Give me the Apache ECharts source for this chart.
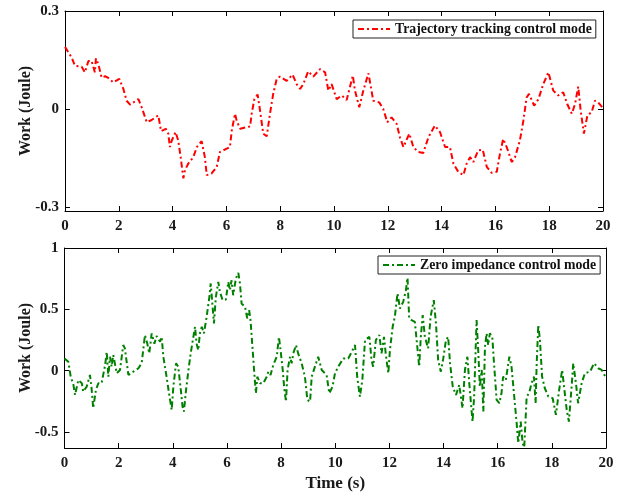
<!DOCTYPE html>
<html>
<head>
<meta charset="utf-8">
<script src="https://cdn.jsdelivr.net/npm/echarts@6/dist/echarts.min.js"></script>
<style>html,body{margin:0;padding:0;background:#fff}#c{width:630px;height:498px}</style>
</head>
<body>
<div id="c"></div>
<script>
// ---------- data ----------
const topTime = [0,0.06,0.25,0.37,0.62,0.74,0.87,0.99,1.11,1.15,1.24,1.36,1.49,1.61,1.80,2.02,2.17,2.29,2.42,2.73,2.85,3.04,3.22,3.47,3.57,3.75,3.84,3.90,3.97,4.03,4.11,4.21,4.30,4.40,4.46,4.58,4.77,4.90,5.08,5.20,5.27,5.45,5.64,5.76,6.01,6.13,6.20,6.32,6.38,6.51,6.75,6.88,6.94,7.04,7.16,7.25,7.37,7.50,7.62,7.74,7.87,7.99,8.24,8.46,8.61,8.74,8.86,9.04,9.23,9.48,9.67,9.79,9.91,10.10,10.29,10.47,10.70,10.78,10.94,11.09,11.28,11.46,11.68,11.83,11.98,12.14,12.33,12.45,12.58,12.80,12.95,13.13,13.32,13.51,13.75,13.94,14.13,14.31,14.44,14.62,14.81,14.93,15.06,15.18,15.36,15.53,15.68,15.86,16.05,16.17,16.29,16.42,16.61,16.73,16.91,17.04,17.16,17.25,17.44,17.60,17.78,17.97,18.15,18.34,18.52,18.67,18.84,18.96,19.08,19.17,19.29,19.42,19.58,19.70,19.82,19.97];
const topWork = [0.19,0.188,0.157,0.132,0.129,0.112,0.147,0.147,0.112,0.155,0.137,0.096,0.10,0.095,0.081,0.092,0.061,0.025,0.013,0.030,0.005,-0.041,-0.034,-0.020,-0.068,-0.061,-0.076,-0.117,-0.097,-0.10,-0.071,-0.097,-0.148,-0.213,-0.188,-0.168,-0.148,-0.117,-0.099,-0.148,-0.203,-0.198,-0.178,-0.132,-0.122,-0.117,-0.066,-0.015,-0.036,-0.061,-0.056,-0.054,-0.015,0.030,0.044,-0.005,-0.076,-0.084,-0.015,0.046,0.092,0.099,0.086,0.105,0.076,0.061,0.076,0.115,0.099,0.122,0.112,0.056,0.076,0.030,0.041,0.027,0.102,0.056,0.005,0.056,0.109,0.025,0.020,0.0,-0.041,-0.026,-0.046,-0.087,-0.117,-0.076,-0.117,-0.132,-0.135,-0.087,-0.051,-0.071,-0.117,-0.117,-0.168,-0.193,-0.203,-0.168,-0.148,-0.163,-0.127,-0.125,-0.178,-0.196,-0.193,-0.137,-0.092,-0.117,-0.163,-0.148,-0.097,-0.036,0.035,0.046,0.010,0.030,0.076,0.112,0.056,0.041,0.051,0.015,-0.015,0.015,0.068,-0.005,-0.076,-0.020,-0.010,0.025,0.020,0.005];

const botTime = [0,0.14,0.23,0.33,0.39,0.51,0.64,0.69,0.82,0.94,1.0,1.06,1.16,1.25,1.37,1.50,1.56,1.62,1.68,1.74,1.80,1.93,2.05,2.17,2.23,2.36,2.54,2.73,2.85,2.97,3.06,3.13,3.22,3.32,3.40,3.53,3.59,3.65,3.77,3.87,3.96,4.02,4.12,4.20,4.29,4.36,4.41,4.49,4.57,4.66,4.76,4.82,4.88,4.94,5.00,5.07,5.15,5.25,5.35,5.40,5.47,5.52,5.59,5.68,5.74,5.84,5.96,6.05,6.11,6.17,6.23,6.33,6.42,6.48,6.54,6.67,6.75,6.82,6.87,6.95,7.01,7.07,7.12,7.22,7.34,7.47,7.53,7.61,7.71,7.84,7.92,7.98,8.06,8.11,8.18,8.24,8.33,8.39,8.45,8.55,8.63,8.76,8.88,8.97,9.07,9.13,9.25,9.37,9.50,9.68,9.78,9.90,9.99,10.11,10.30,10.48,10.61,10.73,10.81,10.91,11.00,11.10,11.26,11.34,11.40,11.50,11.63,11.71,11.80,11.87,11.96,12.02,12.12,12.20,12.30,12.39,12.51,12.61,12.67,12.73,12.82,12.94,13.03,13.10,13.16,13.23,13.31,13.43,13.52,13.64,13.72,13.80,13.90,13.99,14.09,14.17,14.24,14.34,14.46,14.58,14.70,14.79,14.88,14.95,15.07,15.13,15.22,15.28,15.34,15.41,15.47,15.53,15.59,15.65,15.71,15.80,15.86,15.96,16.06,16.14,16.20,16.30,16.43,16.51,16.60,16.70,16.76,16.85,16.92,16.98,17.07,17.16,17.25,17.34,17.40,17.44,17.50,17.56,17.64,17.74,17.87,18.03,18.15,18.27,18.38,18.45,18.55,18.63,18.73,18.79,18.89,18.97,19.10,19.22,19.41,19.56,19.71,19.84,19.98];
const botWork = [0.10,0.073,-0.049,-0.116,-0.198,-0.076,-0.102,-0.171,-0.130,-0.035,-0.143,-0.306,-0.157,-0.102,-0.102,0.046,0.154,-0.049,0.114,0.033,0.128,-0.021,0.006,0.209,0.182,-0.035,-0.008,0.02,0.06,0.29,0.22,0.141,0.304,0.22,0.282,0.236,0.276,0.114,-0.049,-0.198,-0.32,-0.13,0.06,0.033,-0.143,-0.293,-0.333,-0.157,-0.008,0.141,0.276,0.358,0.22,0.168,0.304,0.358,0.304,0.439,0.60,0.711,0.52,0.385,0.60,0.724,0.642,0.575,0.58,0.724,0.656,0.737,0.615,0.751,0.797,0.711,0.548,0.52,0.426,0.493,0.412,0.168,-0.021,-0.184,-0.049,-0.102,-0.102,-0.049,-0.008,-0.035,0.046,0.114,0.276,0.168,0.006,-0.13,-0.252,0.006,0.114,0.06,0.141,0.209,0.141,0.06,-0.049,-0.238,-0.252,-0.049,0.033,0.114,0.006,-0.035,-0.184,-0.13,-0.021,0.033,0.10,0.10,0.154,0.209,-0.049,-0.211,-0.076,0.25,0.276,0.087,0.033,0.25,0.29,0.141,0.276,0.128,-0.021,0.168,0.358,0.439,0.63,0.507,0.561,0.656,0.756,0.426,0.412,0.398,0.195,0.033,0.276,0.453,0.276,0.182,0.439,0.575,0.385,0.087,-0.008,0.10,0.25,0.276,0.06,-0.13,-0.198,-0.116,-0.306,0.006,0.114,-0.102,-0.415,-0.211,0.412,0.168,-0.13,0.006,-0.333,0.195,0.304,0.209,0.304,0.276,0.073,-0.238,-0.265,-0.184,-0.049,-0.076,0.114,0.033,-0.184,-0.428,-0.59,-0.415,-0.59,-0.625,-0.211,-0.184,-0.102,-0.049,-0.265,0.06,0.372,0.25,-0.049,-0.143,-0.211,-0.224,-0.36,-0.157,0.006,-0.13,-0.32,-0.415,-0.13,0.06,-0.102,-0.265,-0.102,-0.021,-0.008,0.06,0.02,0.006,-0.049];

const xTicks = [0,2,4,6,8,10,12,14,16,18,20];
const topYTicks = [-0.3,0,0.3];
const botYTicks = [-0.5,0,0.5,1];
const topName = 'Trajectory tracking control mode';
const botName = 'Zero impedance control mode';

// ---------- chart ----------
const FONT = '"Liberation Serif", "Times New Roman", serif';
const zip = (a,b) => a.map((v,i)=>[v,b[i]]);
const lbl = {fontFamily: FONT, fontWeight: 'bold', fontSize: 15, color: '#1a1a1a'};
const axLine = {show:true, onZero:false, lineStyle:{color:'#000', width:1}};

function xAx(grid, pos, showLabel, name) {
  return {
    type:'value', gridIndex:grid, position:pos, min:0, max:20, interval:2,
    axisLine: axLine,
    axisTick:{show:true, inside:true, length:5, lineStyle:{color:'#000'}},
    axisLabel: Object.assign({show:showLabel, margin:8, formatter: v => xTicks.includes(v) ? String(v) : ''}, lbl),
    splitLine:{show:false},
    name: name || '', nameLocation:'middle', nameGap: 27, nameMoveOverlap:false,
    nameTextStyle:{fontFamily:FONT, fontWeight:'bold', fontSize:17, color:'#1a1a1a'}
  };
}
function yAx(grid, pos, showLabel, min, max, ticks, name) {
  return {
    type:'value', gridIndex:grid, position:pos, min:min, max:max,
    axisLine: axLine,
    axisTick:{show:true, inside:true, length:5, customValues: ticks, lineStyle:{color:'#000'}},
    axisLabel: Object.assign({show:showLabel, margin:6, customValues: ticks, formatter: v => String(v)}, lbl),
    splitLine:{show:false},
    name: name || '', nameLocation:'middle', nameGap: 31, nameMoveOverlap:false,
    nameTextStyle:{fontFamily:FONT, fontWeight:'bold', fontSize:16, color:'#1a1a1a'}
  };
}
const legendCommon = {
  padding:[2,4,2,4], itemWidth:32, itemHeight:12, itemGap:5,
  borderColor:'#222', borderWidth:1, backgroundColor:'#fff',
  itemStyle:{color:'rgba(0,0,0,0)', borderWidth:0, borderColor:'rgba(0,0,0,0)'},
  textStyle:{fontFamily:FONT, fontWeight:'bold', fontSize:13.8, color:'#111'}
};

const chart = echarts.init(document.getElementById('c'), null, {renderer:'canvas'});
chart.setOption({
  backgroundColor:'#fff',
  animation:false,
  grid:[
    {left:65, top:11, width:538, height:200},
    {left:64.5, top:248, width:541.5, height:200}
  ],
  xAxis:[
    xAx(0,'bottom',true), xAx(0,'top',false),
    xAx(1,'bottom',true,'Time (s)'), xAx(1,'top',false)
  ],
  yAxis:[
    yAx(0,'left',true,-0.313,0.3,topYTicks,'Work (Joule)'), yAx(0,'right',false,-0.313,0.3,topYTicks),
    yAx(1,'left',true,-0.63,1,botYTicks,'Work (Joule)'), yAx(1,'right',false,-0.63,1,botYTicks)
  ],
  legend:[
    Object.assign({data:[topName], left:353, top:20}, legendCommon),
    Object.assign({data:[botName], left:378, top:256}, legendCommon)
  ],
  series:[
    {name:topName, type:'line', xAxisIndex:0, yAxisIndex:0, data:zip(topTime,topWork),
     showSymbol:false, symbol:'none', color:'#ff0000',
     lineStyle:{color:'#ff0000', width:2, type:[6,3,2,3]}},
    {name:botName, type:'line', xAxisIndex:2, yAxisIndex:2, data:zip(botTime,botWork),
     showSymbol:false, symbol:'none', color:'#008000',
     lineStyle:{color:'#008000', width:2, type:[6,3,2,3]}}
  ]
});
</script>
</body>
</html>
